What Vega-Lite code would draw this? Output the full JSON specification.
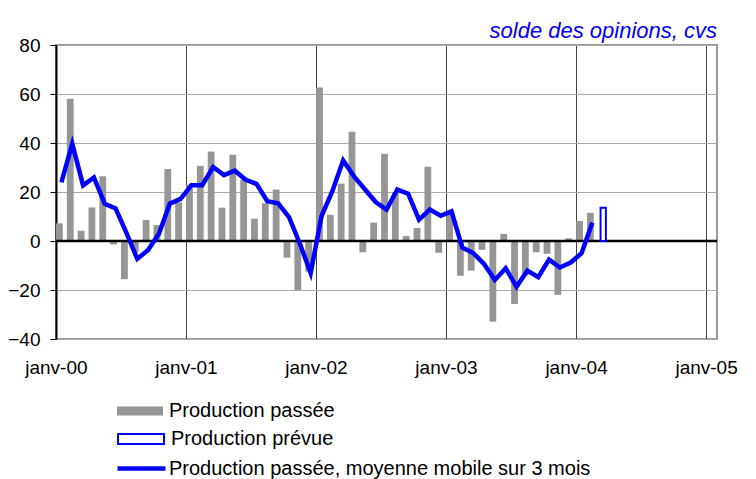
{
  "$schema": "https://vega.github.io/schema/vega-lite/v6.json",
  "width": 661,
  "height": 294,
  "autosize": {"type": "none"},
  "padding": {"left": 56, "top": 45, "right": 39, "bottom": 140},
  "background": "white",
  "config": {
    "font": "Liberation Sans",
    "view": {"stroke": "#999999", "strokeWidth": 2}
  },
  "title": {
    "text": "solde des opinions, cvs",
    "anchor": "end",
    "frame": "group",
    "color": "#0000ff",
    "font": "Liberation Sans",
    "fontStyle": "italic",
    "fontWeight": "normal",
    "fontSize": 22,
    "baseline": "bottom",
    "offset": 4,
    "dy": 33
  },
  "data": {
    "values": [
      {"mois": "janv-00", "passee": 7.2, "moyenne": 23.9},
      {"mois": "févr-00", "passee": 58.1, "moyenne": 39.7},
      {"mois": "mars-00", "passee": 4.2, "moyenne": 22.7},
      {"mois": "avr-00", "passee": 13.7, "moyenne": 25.9},
      {"mois": "mai-00", "passee": 26.4, "moyenne": 15.2},
      {"mois": "juin-00", "passee": -1.4, "moyenne": 13.3},
      {"mois": "juil-00", "passee": -15.6, "moyenne": 3.3},
      {"mois": "août-00", "passee": -4.5, "moyenne": -7.3},
      {"mois": "sept-00", "passee": 8.6, "moyenne": -3.7},
      {"mois": "oct-00", "passee": 6.5, "moyenne": 3.0},
      {"mois": "nov-00", "passee": 29.4, "moyenne": 15.2},
      {"mois": "déc-00", "passee": 15.8, "moyenne": 17.2},
      {"mois": "janv-01", "passee": 23.0, "moyenne": 22.8},
      {"mois": "févr-01", "passee": 30.7, "moyenne": 22.8},
      {"mois": "mars-01", "passee": 36.5, "moyenne": 30.2},
      {"mois": "avr-01", "passee": 13.6, "moyenne": 26.9},
      {"mois": "mai-01", "passee": 35.2, "moyenne": 28.7},
      {"mois": "juin-01", "passee": 25.0, "moyenne": 25.0},
      {"mois": "juil-01", "passee": 9.1, "moyenne": 23.3},
      {"mois": "août-01", "passee": 15.4, "moyenne": 16.2},
      {"mois": "sept-01", "passee": 21.0, "moyenne": 15.4},
      {"mois": "oct-01", "passee": -6.8, "moyenne": 9.7},
      {"mois": "nov-01", "passee": -20.0, "moyenne": -1.0},
      {"mois": "déc-01", "passee": -12.5, "moyenne": -13.1},
      {"mois": "janv-02", "passee": 62.7, "moyenne": 10.1},
      {"mois": "févr-02", "passee": 10.7, "moyenne": 20.3},
      {"mois": "mars-02", "passee": 23.4, "moyenne": 32.9},
      {"mois": "avr-02", "passee": 44.6, "moyenne": 26.4},
      {"mois": "mai-02", "passee": -4.6, "moyenne": 21.1},
      {"mois": "juin-02", "passee": 7.5, "moyenne": 15.9},
      {"mois": "juil-02", "passee": 35.6, "moyenne": 12.8},
      {"mois": "août-02", "passee": 20.0, "moyenne": 21.0},
      {"mois": "sept-02", "passee": 2.0, "moyenne": 19.3},
      {"mois": "oct-02", "passee": 5.3, "moyenne": 8.7},
      {"mois": "nov-02", "passee": 30.3, "moyenne": 12.8},
      {"mois": "déc-02", "passee": -4.8, "moyenne": 10.3},
      {"mois": "janv-03", "passee": 10.8, "moyenne": 12.1},
      {"mois": "févr-03", "passee": -14.2, "moyenne": -2.7},
      {"mois": "mars-03", "passee": -12.1, "moyenne": -4.9},
      {"mois": "avr-03", "passee": -3.6, "moyenne": -9.4},
      {"mois": "mai-03", "passee": -32.9, "moyenne": -15.9},
      {"mois": "juin-03", "passee": 2.9, "moyenne": -11.1},
      {"mois": "juil-03", "passee": -25.7, "moyenne": -18.7},
      {"mois": "août-03", "passee": -14.0, "moyenne": -12.1},
      {"mois": "sept-03", "passee": -4.6, "moyenne": -14.8},
      {"mois": "oct-03", "passee": -5.2, "moyenne": -7.6},
      {"mois": "nov-03", "passee": -22.0, "moyenne": -10.8},
      {"mois": "déc-03", "passee": 1.1, "moyenne": -8.8},
      {"mois": "janv-04", "passee": 8.2, "moyenne": -5.0},
      {"mois": "févr-04", "passee": 11.5, "moyenne": 7.5},
      {"mois": "mars-04", "prevue": 13.6}
    ]
  },
  "layer": [
    {
      "mark": {"type": "bar", "color": "#969696", "width": 6.8, "xOffset": -2},
      "encoding": {
        "x": {
          "field": "mois",
          "type": "ordinal",
          "sort": null,
          "scale": {
            "type": "band",
            "paddingInner": 0,
            "paddingOuter": 0,
            "domain": ["janv-00","févr-00","mars-00","avr-00","mai-00","juin-00","juil-00","août-00","sept-00","oct-00","nov-00","déc-00",
                       "janv-01","févr-01","mars-01","avr-01","mai-01","juin-01","juil-01","août-01","sept-01","oct-01","nov-01","déc-01",
                       "janv-02","févr-02","mars-02","avr-02","mai-02","juin-02","juil-02","août-02","sept-02","oct-02","nov-02","déc-02",
                       "janv-03","févr-03","mars-03","avr-03","mai-03","juin-03","juil-03","août-03","sept-03","oct-03","nov-03","déc-03",
                       "janv-04","févr-04","mars-04","avr-04","mai-04","juin-04","juil-04","août-04","sept-04","oct-04","nov-04","déc-04",
                       "janv-05"]
          },
          "axis": {
            "values": ["janv-00","janv-01","janv-02","janv-03","janv-04","janv-05"],
            "bandPosition": 0,
            "labelOffset": -5,
            "grid": true,
            "gridColor": "#444444",
            "gridWidth": 1,
            "ticks": false,
            "domain": false,
            "labelAngle": 0,
            "labelFontSize": 19,
            "labelColor": "black",
            "labelPadding": 19,
            "title": null
          }
        },
        "y": {
          "field": "passee",
          "type": "quantitative",
          "scale": {"domain": [-40, 80], "nice": false},
          "axis": {
            "values": [-40, -20, 0, 20, 40, 60, 80],
            "grid": true,
            "gridColor": "#aaaaaa",
            "gridWidth": 1,
            "domainColor": "black",
            "domainWidth": 2,
            "tickColor": "black",
            "tickSize": 6,
            "labelFontSize": 19,
            "labelColor": "black",
            "labelPadding": 10,
            "title": null
          }
        },
        "fill": {
          "datum": "Production passée",
          "scale": {"range": ["#969696"]},
          "legend": {
            "orient": "none",
            "legendX": 61,
            "legendY": 343,
            "title": null,
            "padding": 0,
            "symbolType": "M-1,-0.2H1V0.2H-1Z",
            "symbolSize": 2116,
            "symbolStrokeWidth": 0,
            "labelFontSize": 20,
            "labelColor": "black",
            "labelOffset": 6,
            "labelLimit": 700
          }
        }
      }
    },
    {
      "data": {"values": [{"zero": 0}]},
      "mark": {"type": "rule", "color": "black", "strokeWidth": 2.5},
      "encoding": {"y": {"field": "zero", "type": "quantitative"}}
    },
    {
      "mark": {"type": "bar", "fill": "white", "stroke": "#0000ff", "strokeWidth": 2, "width": 5.3},
      "encoding": {
        "x": {"field": "mois", "type": "ordinal", "sort": null},
        "y": {"field": "prevue", "type": "quantitative"},
        "stroke": {
          "datum": "Production prévue",
          "scale": {"range": ["#0000ff"]},
          "legend": {
            "orient": "none",
            "legendX": 61,
            "legendY": 370,
            "title": null,
            "padding": 0,
            "symbolType": "M-1,-0.22H1V0.22H-1Z",
            "symbolSize": 2116,
            "symbolStrokeWidth": 2,
            "symbolFillColor": "white",
            "labelFontSize": 20,
            "labelColor": "black",
            "labelOffset": 6,
            "labelLimit": 700
          }
        }
      }
    },
    {
      "mark": {"type": "line", "strokeWidth": 4.5},
      "encoding": {
        "x": {"field": "mois", "type": "ordinal", "sort": null},
        "y": {"field": "moyenne", "type": "quantitative"},
        "color": {
          "datum": "Production passée, moyenne mobile sur 3 mois",
          "scale": {"range": ["#0000ff"]},
          "legend": {
            "orient": "none",
            "legendX": 59,
            "legendY": 397,
            "title": null,
            "padding": 0,
            "symbolType": "stroke",
            "symbolSize": 2304,
            "symbolStrokeWidth": 4.5,
            "labelFontSize": 20,
            "labelColor": "black",
            "labelOffset": 1,
            "labelLimit": 700
          }
        }
      }
    }
  ]
}
